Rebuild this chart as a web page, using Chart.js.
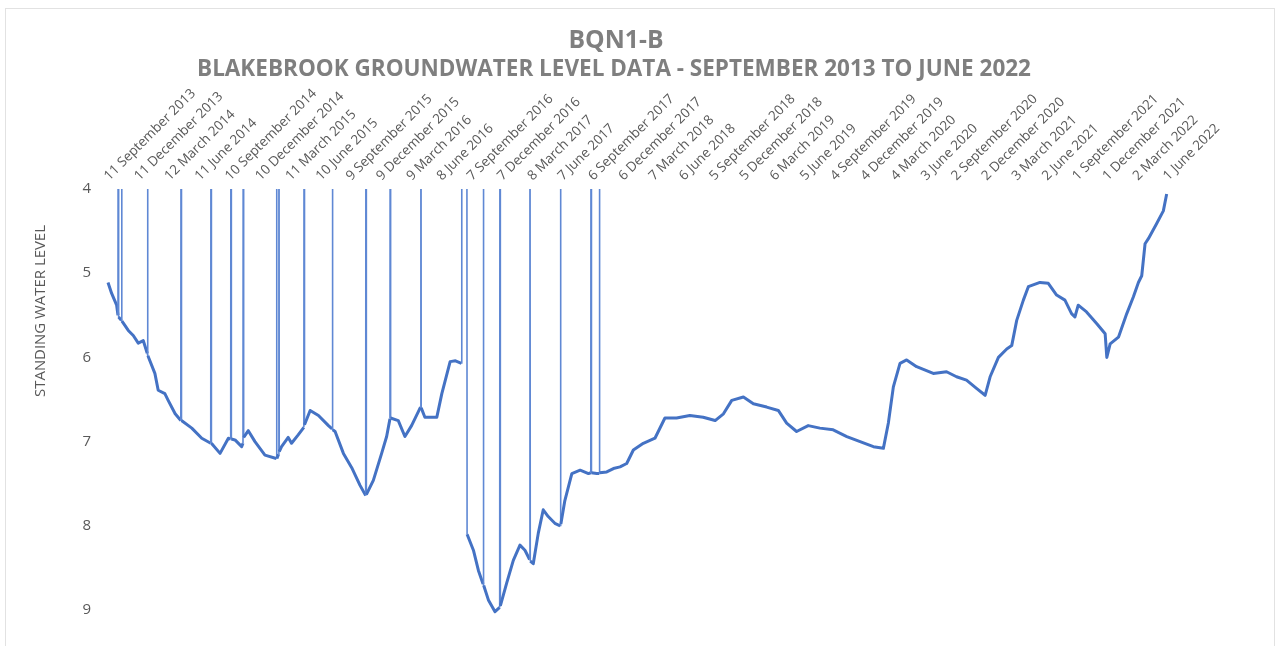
<!DOCTYPE html>
<html>
<head>
<meta charset="utf-8">
<script src="https://cdn.jsdelivr.net/npm/chart.js@4"></script>
<style>
  html, body { margin: 0; padding: 0; background: #ffffff; }
  #wrap { position: relative; width: 1279px; height: 646px; overflow: hidden; }
  #frame { position: absolute; left: 5px; top: 8px; width: 1270px; height: 640px;
           border: 1px solid #e2e2e2; box-sizing: border-box; pointer-events: none; }
  canvas { position: absolute; left: 0; top: 0; }
</style>
</head>
<body>
<div id="wrap">
  <canvas id="chart" width="1279" height="646"></canvas>
  <div id="frame"></div>
</div>
<script>
// Quarterly tick labels (every 91 days from the first reading)
var quarterLabels = [
  '11 September 2013', '11 December 2013', '12 March 2014', '11 June 2014',
  '10 September 2014', '10 December 2014', '11 March 2015', '10 June 2015',
  '9 September 2015', '9 December 2015', '9 March 2016', '8 June 2016',
  '7 September 2016', '7 December 2016', '8 March 2017', '7 June 2017',
  '6 September 2017', '6 December 2017', '7 March 2018', '6 June 2018',
  '5 September 2018', '5 December 2018', '6 March 2019', '5 June 2019',
  '4 September 2019', '4 December 2019', '4 March 2020', '3 June 2020',
  '2 September 2020', '2 December 2020', '3 March 2021', '2 June 2021',
  '1 September 2021', '1 December 2021', '2 March 2022', '1 June 2022'
];
var DAYS_PER_TICK = 91;

// Readings: days since 11 Sep 2013, standing water level (m).
// The 0 readings are logger glitches that shoot off the top of the chart.
var dayOffsets = [
  0, 11, 26, 30, 31, 32, 40, 41, 42, 61,
  76, 91, 106, 118, 119, 120, 141, 151, 171, 181,
  202, 219, 220, 221, 252, 282, 309, 310, 311, 337,
  362, 369, 370, 371, 382, 402, 406, 407, 408, 422,
  442, 472, 506, 507, 508, 513, 514, 515, 522, 542,
  552, 572, 589, 590, 591, 608, 633, 663, 674, 675,
  676, 683, 708, 733, 758, 775, 776, 777, 798, 823,
  838, 848, 849, 850, 873, 893, 913, 940, 941, 942,
  953, 989, 1004, 1029, 1045, 1063, 1064, 1079, 1080, 1099,
  1114, 1128, 1129, 1130, 1144, 1164, 1178, 1179, 1180, 1199,
  1219, 1239, 1254, 1268, 1269, 1270, 1279, 1294, 1309, 1324,
  1344, 1360, 1361, 1362, 1374, 1395, 1420, 1445, 1452, 1453,
  1454, 1470, 1477, 1478, 1479, 1500, 1520, 1540, 1560, 1580,
  1610, 1645, 1675, 1710, 1750, 1790, 1826, 1851, 1876, 1911,
  1941, 1981, 2016, 2041, 2071, 2106, 2141, 2181, 2222, 2262,
  2302, 2332, 2347, 2362, 2382, 2402, 2432, 2482, 2522, 2552,
  2582, 2613, 2638, 2653, 2678, 2703, 2718, 2733, 2753, 2768,
  2803, 2828, 2853, 2878, 2898, 2908, 2918, 2943, 2974, 2999,
  3004, 3014, 3039, 3064, 3084, 3099, 3109, 3119, 3129, 3154,
  3174, 3184
];
var levels = [
  5.11, 5.24, 5.38, 5.50, 0, 5.52, 5.56, 0, 5.57, 5.68,
  5.74, 5.83, 5.80, 5.95, 0, 5.98, 6.19, 6.39, 6.43, 6.51,
  6.67, 6.75, 0, 6.75, 6.84, 6.96, 7.02, 0, 7.02, 7.14,
  6.96, 6.97, 0, 6.97, 6.98, 7.06, 7.02, 0, 6.95, 6.87,
  7.00, 7.16, 7.20, 0, 7.20, 7.15, 0, 7.12, 7.06, 6.95,
  7.02, 6.92, 6.83, 0, 6.80, 6.63, 6.69, 6.81, 6.85, 0,
  6.86, 6.88, 7.14, 7.31, 7.52, 7.64, 0, 7.63, 7.46, 7.14,
  6.94, 6.73, 0, 6.72, 6.75, 6.94, 6.81, 6.59, 0, 6.60,
  6.71, 6.71, 6.43, 6.05, 6.04, 6.07, 0, 0, 8.10, 8.29,
  8.53, 8.69, 0, 8.71, 8.88, 9.02, 8.97, 0, 8.95, 8.68,
  8.41, 8.23, 8.29, 8.40, 0, 8.42, 8.45, 8.09, 7.81, 7.89,
  7.97, 8.00, 0, 7.98, 7.70, 7.38, 7.34, 7.38, 7.37, 0,
  7.37, 7.38, 7.38, 0, 7.37, 7.36, 7.32, 7.30, 7.26, 7.10,
  7.02, 6.96, 6.72, 6.72, 6.69, 6.71, 6.75, 6.67, 6.51, 6.47,
  6.55, 6.59, 6.63, 6.78, 6.88, 6.81, 6.84, 6.86, 6.94, 7.00,
  7.06, 7.08, 6.78, 6.35, 6.07, 6.03, 6.11, 6.19, 6.17, 6.23,
  6.27, 6.37, 6.45, 6.23, 6.00, 5.90, 5.86, 5.56, 5.32, 5.16,
  5.11, 5.12, 5.26, 5.32, 5.48, 5.52, 5.38, 5.46, 5.60, 5.72,
  6.00, 5.84, 5.76, 5.48, 5.28, 5.11, 5.03, 4.65, 4.59, 4.41,
  4.26, 4.06
];

var TITLE    = 'BQN1-B';
var SUBTITLE = 'BLAKEBROOK GROUNDWATER LEVEL DATA - SEPTEMBER 2013 TO JUNE 2022';
var Y_TITLE  = 'STANDING WATER LEVEL';

var FONT = '"Open Sans", "Noto Sans", sans-serif';
var LINE_BLUE  = '#4472C4';
var SPIKE_BLUE = '#5f88d4';

// draw text scaled so it spans a given width (Calibri isn't installed)
function fitText(c, text, weight, width, x, y) {
  c.font = weight + ' 20px ' + FONT;
  var size = 20 * width / c.measureText(text).width;
  c.font = weight + ' ' + size.toFixed(2) + 'px ' + FONT;
  c.fillText(text, x, y);
}

// Titles and the y-axis caption sit where Excel put them, not where Chart.js centres them
var textPlugin = {
  id: 'excelText',
  afterDraw: function (chart) {
    var c = chart.ctx;
    c.save();
    c.textAlign = 'center';
    c.textBaseline = 'middle';
    c.fillStyle = '#7f7f7f';
    fitText(c, TITLE, 'bold', 95, 616, 41);
    fitText(c, SUBTITLE, 'bold', 834, 614, 70);

    c.translate(41, 311);
    c.rotate(-Math.PI / 2);
    c.fillStyle = '#595959';
    fitText(c, Y_TITLE, 'normal', 172, 0, 0);
    c.restore();
  }
};

var points = dayOffsets.map(function (d, i) { return { x: d, y: levels[i] }; });

// glitch segments are drawn thinner than the noisy logger trace
function isGlitch(ctx) {
  return ctx.p0.parsed.y === 0 || ctx.p1.parsed.y === 0;
}

new Chart(document.getElementById('chart'), {
  type: 'line',
  plugins: [textPlugin],
  data: {
    datasets: [{
      label: 'Standing water level',
      data: points,
      borderColor: LINE_BLUE,
      borderWidth: 3,
      borderJoinStyle: 'round',
      pointRadius: 0,
      tension: 0,
      fill: false,
      clip: { left: 5, top: 0, right: 5, bottom: 6 },
      segment: {
        borderWidth: function (ctx) { return isGlitch(ctx) ? 1.6 : 3; },
        borderColor: function (ctx) { return isGlitch(ctx) ? SPIKE_BLUE : LINE_BLUE; }
      }
    }]
  },
  options: {
    responsive: false,
    animation: false,
    layout: { padding: { left: 0, right: 112, top: 0, bottom: 36 } },
    plugins: {
      legend: { display: false },
      tooltip: { enabled: false },
      title: { display: false }
    },
    scales: {
      x: {
        type: 'linear',
        position: 'top',
        min: 0,
        max: DAYS_PER_TICK * (quarterLabels.length - 1),
        grid: { display: false, drawTicks: false },
        border: { display: false },
        afterFit: function (scale) { scale.height = 189; },
        ticks: {
          stepSize: DAYS_PER_TICK,
          maxTicksLimit: 40,
          autoSkip: false,
          minRotation: 45,
          maxRotation: 45,
          padding: 5,
          labelOffset: 10,
          color: '#595959',
          font: { family: FONT, size: 13.5 },
          callback: function (v) {
            var i = Math.round(v / DAYS_PER_TICK);
            return quarterLabels[i] || '';
          }
        }
      },
      y: {
        reverse: true,
        min: 4,
        max: 9,
        grid: { display: false, drawTicks: false },
        border: { display: false },
        afterFit: function (scale) { scale.width = 108; },
        ticks: {
          stepSize: 1,
          padding: 17,
          color: '#595959',
          font: { family: FONT, size: 15 }
        }
      }
    }
  }
});
</script>
</body>
</html>
